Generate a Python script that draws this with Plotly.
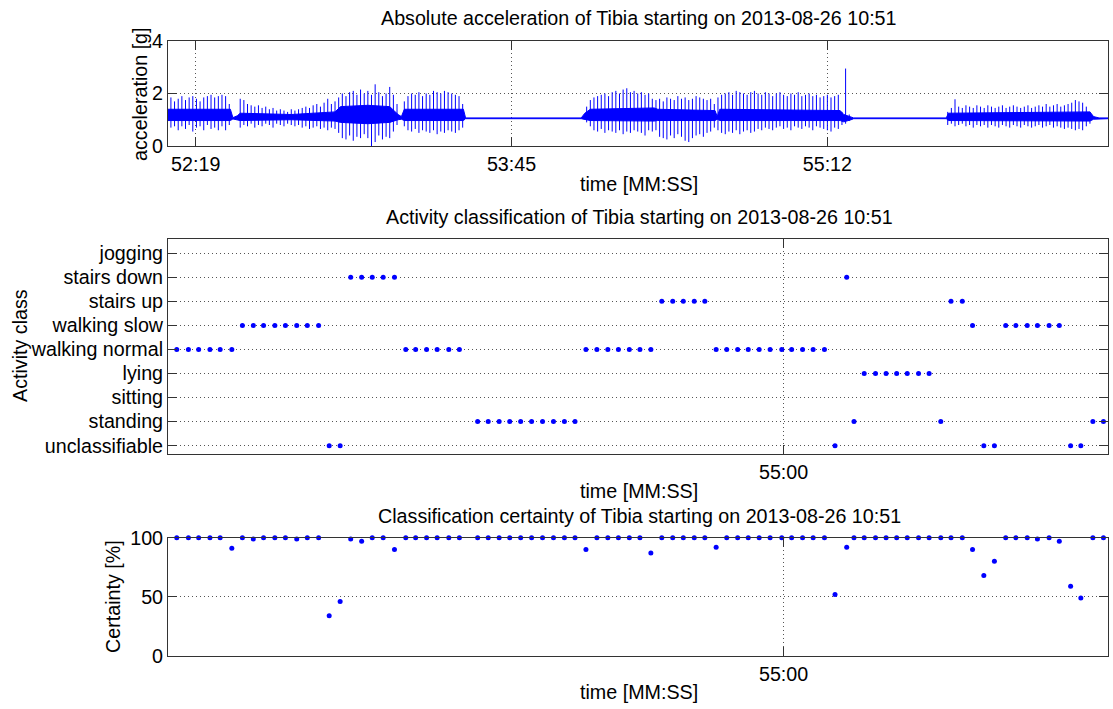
import plotly.graph_objects as go

# ---------------- data ----------------
# time axis: seconds after 10:52:00
x_range = [11.2, 268.95]
top_tick_vals = [18.8, 105.4, 192.0]
top_tick_text = ["52:19", "53:45", "55:12"]
low_tick_vals = [180.0]
low_tick_text = ["55:00"]

# acceleration: dense core band of the signal (knots: time, low, high) [g]
core_t = [11.2, 28.3, 29.0, 30.2, 31.0, 45.0, 57.0, 58.5, 66.0, 72.0, 74.3, 75.2, 76.0,
          92.2, 92.8, 124.5, 125.5, 127.0, 144.5, 145.5, 161.2, 161.8, 162.5, 195.5,
          196.5, 198.5, 199.2, 224.6, 225.2, 264.0, 265.0, 266.5, 268.95]
core_lo = [0.97, 0.97, 1.03, 1.00, 0.97, 1.0, 0.95, 0.9, 0.85, 0.9, 1.00, 1.02, 0.97,
           0.97, 1.04, 1.04, 1.00, 0.97, 0.95, 0.97, 0.97, 1.02, 0.97, 0.97,
           0.92, 1.00, 1.04, 1.04, 0.97, 0.95, 1.02, 1.04, 1.04]
core_hi = [1.4, 1.4, 1.08, 1.15, 1.25, 1.2, 1.3, 1.5, 1.55, 1.5, 1.20, 1.12, 1.4,
           1.4, 1.07, 1.07, 1.25, 1.4, 1.45, 1.4, 1.35, 1.12, 1.4, 1.35,
           1.20, 1.10, 1.07, 1.07, 1.25, 1.3, 1.12, 1.07, 1.07]

# acceleration spikes (one per second), peak high / low [g]
walk1_start = 12
walk1_hi = [1.85, 1.7, 1.8, 1.9, 1.75, 1.85, 1.9, 1.8, 1.7, 1.85, 1.9, 1.95, 1.85, 1.9, 1.95, 1.9, 1.6]
walk1_lo = [0.7, 0.75, 0.6, 0.75, 0.65, 0.8, 0.55, 0.7, 0.75, 0.6, 0.8, 0.65, 0.7, 0.6, 0.75, 0.6, 0.8]
slow1_start = 31
slow1_hi = [1.8, 1.75, 1.6, 1.55, 1.5, 1.55, 1.45, 1.5, 1.4, 1.45, 1.35, 1.4, 1.35, 1.3, 1.4, 1.35,
            1.4, 1.45, 1.5, 1.45, 1.55, 1.6, 1.5, 1.65, 1.8, 1.6, 1.7]
slow1_lo = [0.7, 0.8, 0.75, 0.85, 0.7, 0.8, 0.75, 0.85, 0.8, 0.7, 0.85, 0.8, 0.75, 0.85, 0.8, 0.75,
            0.8, 0.7, 0.75, 0.65, 0.7, 0.75, 0.65, 0.7, 0.6, 0.7, 0.65]
down1_start = 58
down1_hi = [1.85, 2.0, 1.9, 2.05, 2.1, 1.95, 2.15, 2.0, 2.1, 1.95, 2.35, 2.05, 1.9, 2.0, 2.25, 1.95, 1.6]
down1_lo = [0.5, 0.3, 0.25, 0.4, 0.2, 0.35, 0.3, 0.45, 0.3, 0.0, 0.15, 0.4, 0.25, 0.35, 0.3, 0.55, 0.8]
walk2_start = 76
walk2_hi = [1.7, 1.9, 2.0, 1.95, 2.05, 1.9, 2.0, 1.95, 2.1, 2.05, 2.0, 2.1, 2.05, 2.0, 1.95, 1.9, 1.6]
walk2_lo = [0.75, 0.6, 0.55, 0.65, 0.5, 0.6, 0.55, 0.5, 0.6, 0.45, 0.55, 0.5, 0.6, 0.55, 0.5, 0.6, 0.7]
walk3_start = 126
walk3_hi = [1.5, 1.75, 1.85, 1.9, 1.95, 2.0, 1.9, 2.05, 2.1, 2.0, 2.15, 2.2, 2.05, 2.1, 2.0, 2.05, 1.95, 2.0, 1.8]
walk3_lo = [0.9, 0.75, 0.6, 0.55, 0.65, 0.5, 0.6, 0.55, 0.5, 0.6, 0.45, 0.55, 0.5, 0.6, 0.55, 0.5, 0.4, 0.6, 0.55]
up1_start = 145
up1_hi = [1.75, 1.8, 1.7, 1.85, 1.8, 1.75, 1.9, 1.8, 1.85, 1.75, 1.8, 1.9, 1.85, 1.8, 1.75, 1.8, 1.6]
up1_lo = [0.6, 0.35, 0.3, 0.25, 0.4, 0.3, 0.45, 0.35, 0.2, 0.15, 0.3, 0.4, 0.45, 0.35, 0.5, 0.55, 0.7]
walk4_start = 162
walk4_hi = [1.85, 1.95, 2.0, 2.05, 1.95, 2.1, 2.05, 2.0, 1.95, 2.05, 2.1, 2.0, 1.95, 2.05, 2.0, 1.9, 2.0,
            2.05, 1.95, 1.9, 2.0, 1.95, 2.05, 1.9, 1.95, 2.0, 1.9, 1.95, 1.85, 1.9, 1.95, 1.85, 1.9, 1.95]
walk4_lo = [0.6, 0.5, 0.45, 0.55, 0.5, 0.6, 0.45, 0.55, 0.6, 0.5, 0.55, 0.65, 0.6, 0.7, 0.65, 0.6, 0.7,
            0.75, 0.65, 0.7, 0.6, 0.75, 0.7, 0.65, 0.75, 0.7, 0.6, 0.75, 0.7, 0.65, 0.6, 0.55, 0.7, 0.65]
bump_start = 196
bump_hi = [1.3, 2.95, 1.2]
bump_lo = [0.8, 0.85, 0.95]
slow2_start = 225
slow2_hi = [1.3, 1.45, 1.78, 1.5, 1.45, 1.55, 1.5, 1.45, 1.55, 1.5, 1.45, 1.55, 1.5, 1.45, 1.5, 1.55,
            1.45, 1.5, 1.55, 1.5, 1.45, 1.5, 1.55, 1.45, 1.5, 1.55, 1.5, 1.6, 1.5, 1.55, 1.6, 1.5,
            1.55, 1.6, 1.65, 1.75, 1.7, 1.65, 1.5, 1.3]
slow2_lo = [0.8, 0.85, 0.75, 0.8, 0.85, 0.75, 0.8, 0.7, 0.8, 0.75, 0.8, 0.7, 0.8, 0.75, 0.7, 0.8,
            0.75, 0.7, 0.8, 0.75, 0.7, 0.8, 0.75, 0.7, 0.75, 0.8, 0.7, 0.75, 0.8, 0.7, 0.75, 0.7,
            0.65, 0.7, 0.65, 0.6, 0.65, 0.6, 0.75, 0.85]

# classification windows
win_t = [13.6, 16.8, 19.6, 22.7, 25.5, 28.7, 31.6, 34.6, 37.4, 40.5, 43.4, 46.5, 49.4, 52.5,
         55.4, 58.4, 61.3, 64.3, 67.2, 70.2, 73.3, 76.4, 79.1, 82.1, 85.0, 88.2, 91.1, 96.1,
         99.0, 102.0, 104.9, 107.9, 110.9, 113.9, 116.9, 119.9, 122.8, 125.8, 128.8, 131.8,
         134.7, 137.7, 140.6, 143.6, 146.6, 149.6, 152.5, 155.5, 158.4, 161.5, 164.4, 167.4,
         170.3, 173.3, 176.3, 179.5, 182.2, 185.2, 188.1, 191.2, 194.1, 197.3, 199.3, 202.1,
         205.2, 208.1, 211.0, 213.9, 217.0, 219.9, 223.1, 225.9, 229.0, 231.8, 234.9, 237.8,
         240.9, 243.7, 246.8, 249.6, 252.8, 255.6, 258.7, 261.5, 264.8, 267.7]
class_order = ["unclassifiable", "standing", "sitting", "lying", "walking normal",
               "walking slow", "stairs up", "stairs down", "jogging"]
WN, WS, SU, SD, ST, LY, UC = ("walking normal", "walking slow", "stairs up",
                              "stairs down", "standing", "lying", "unclassifiable")
win_class = ([WN] * 6 + [WS] * 8 + [UC] * 2 + [SD] * 5 + [WN] * 6 + [ST] * 10 + [WN] * 7 +
             [SU] * 5 + [WN] * 11 + [UC, SD, ST] + [LY] * 7 + [ST] + [SU] * 2 + [WS] +
             [UC] * 2 + [WS] * 6 + [UC] * 2 + [ST] * 2)
win_cert = [100, 100, 100, 100, 100, 91, 100, 99, 100, 100, 100, 99, 100, 100,
            34, 46, 99, 97, 100, 100, 90, 100, 100, 100, 100, 100, 100, 100,
            100, 100, 100, 100, 100, 100, 100, 100, 100, 90, 100, 100,
            100, 100, 100, 87, 100, 100, 100, 100, 100, 92, 100, 100,
            100, 100, 100, 100, 100, 100, 100, 100, 52, 92, 100, 100,
            100, 100, 100, 100, 100, 100, 100, 100, 100, 90, 68, 80,
            100, 100, 100, 99, 100, 97, 59, 49, 100, 100]

# ---------------- figure ----------------
W, H = 1113, 709
BLUE = "#0000ff"
FONT = "Liberation Sans, Arial, Helvetica, sans-serif"
FS = 19.7

segments = [(walk1_start, walk1_hi, walk1_lo), (slow1_start, slow1_hi, slow1_lo),
            (down1_start, down1_hi, down1_lo), (walk2_start, walk2_hi, walk2_lo),
            (walk3_start, walk3_hi, walk3_lo), (up1_start, up1_hi, up1_lo),
            (walk4_start, walk4_hi, walk4_lo), (bump_start, bump_hi, bump_lo),
            (slow2_start, slow2_hi, slow2_lo)]
sx, sy = [], []
for start, hi, lo in segments:
    for i, (h, l) in enumerate(zip(hi, lo)):
        t = start + i
        sx += [t, t, None]
        sy += [l, h, None]

fig = go.Figure()
fig.add_trace(go.Scatter(x=core_t + core_t[::-1], y=core_hi + core_lo[::-1],
                         fill="toself", fillcolor=BLUE, mode="lines",
                         line=dict(color=BLUE, width=1), xaxis="x", yaxis="y",
                         hoverinfo="skip", showlegend=False))
fig.add_trace(go.Scatter(x=sx, y=sy, mode="lines", line=dict(color=BLUE, width=1),
                         xaxis="x", yaxis="y", showlegend=False, connectgaps=False))
fig.add_trace(go.Scatter(x=win_t, y=win_class, mode="markers",
                         marker=dict(color=BLUE, size=5, symbol="circle"),
                         xaxis="x2", yaxis="y2", showlegend=False, cliponaxis=False))
fig.add_trace(go.Scatter(x=win_t, y=win_cert, mode="markers",
                         marker=dict(color=BLUE, size=5, symbol="circle"),
                         xaxis="x3", yaxis="y3", showlegend=False, cliponaxis=False))

xd = [168 / W, 1108 / W]


def yd(top, bottom):
    return [1 - bottom / H, 1 - top / H]


common = dict(showline=True, linecolor="#333333", linewidth=1, mirror="ticks",
              ticks="inside", ticklen=9, tickcolor="#333333", tickwidth=1,
              showgrid=True, gridcolor="#555555", griddash="1px,3px", gridwidth=1,
              zeroline=False, automargin=False,
              tickfont=dict(family=FONT, size=FS, color="black"))

fig.update_layout(
    width=W, height=H, margin=dict(l=0, r=0, t=0, b=0, pad=0), autosize=False,
    paper_bgcolor="white", plot_bgcolor="white", showlegend=False,
    xaxis=dict(domain=xd, range=x_range, tickmode="array", tickvals=top_tick_vals,
               ticktext=top_tick_text, anchor="y", **common),
    yaxis=dict(domain=yd(41, 146), range=[0, 4], tickmode="array", tickvals=[0, 2, 4],
               anchor="x", **common),
    xaxis2=dict(domain=xd, range=x_range, tickmode="array", tickvals=low_tick_vals,
                ticktext=low_tick_text, anchor="y2", **common),
    yaxis2=dict(domain=yd(239.3, 454.3), type="category", categoryorder="array",
                categoryarray=class_order, tickmode="array", tickvals=class_order,
                ticktext=class_order, range=[-0.36, 8.58], anchor="x2", **common),
    xaxis3=dict(domain=xd, range=x_range, tickmode="array", tickvals=low_tick_vals,
                ticktext=low_tick_text, anchor="y3", **common),
    yaxis3=dict(domain=yd(537.7, 656), range=[0, 100], tickmode="array",
                tickvals=[0, 50, 100], anchor="x3", **common),
)

labels = [
    ("Absolute acceleration of Tibia starting on 2013-08-26 10:51", 639, 18, 0),
    ("time [MM:SS]", 639, 184, 0),
    ("acceleration [g]", 140, 94, -90),
    ("Activity classification of Tibia starting on 2013-08-26 10:51", 639, 217, 0),
    ("time [MM:SS]", 639, 491, 0),
    ("Activity class", 20, 346, -90),
    ("Classification certainty of Tibia starting on 2013-08-26 10:51", 639, 516, 0),
    ("time [MM:SS]", 639, 692, 0),
    ("Certainty [%]", 113, 596, -90),
]
for text, px, py, ang in labels:
    fig.add_annotation(text=text, x=px / W, y=1 - py / H, xref="paper", yref="paper",
                       xanchor="center", yanchor="middle", showarrow=False, textangle=ang,
                       font=dict(family=FONT, size=FS, color="black"))

fig.write_html("out.html")
